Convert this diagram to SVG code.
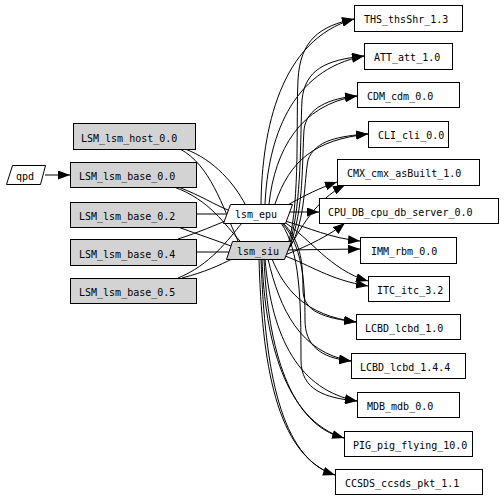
<svg xmlns="http://www.w3.org/2000/svg" width="504" height="498" viewBox="0 0 504 498">
<defs>
<style>
text{font-family:"DejaVu Sans Mono","Liberation Mono",monospace;font-size:10px;fill:#000}
.n{fill:#fff;stroke:#000;stroke-width:1}
.g{fill:#d3d3d3;stroke:#000;stroke-width:1}
.e{fill:none;stroke:#000;stroke-width:1}
.a{marker-end:url(#ah)}
</style>
<marker id="ah" markerWidth="13" markerHeight="9" refX="12" refY="4.5" orient="auto" markerUnits="userSpaceOnUse"><path d="M0,0 L12,4.5 L0,9 z" fill="#000"/></marker>
</defs>
<rect width="504" height="498" fill="#fff"/>
<g id="edges">
<path class="e a" d="M45,175 L70,175"/>
<path class="e" d="M185,149 C215,160 235,185 245,204"/>
<path class="e" d="M180,149 C210,165 222,205 238,241"/>
<path class="e" d="M178,187 C200,195 215,205 228,210"/>
<path class="e" d="M174,187 C210,200 225,225 240,241"/>
<path class="e" d="M196,214 L226,214"/>
<path class="e" d="M178,227 C200,235 215,240 231,246"/>
<path class="e" d="M178,239 C200,232 215,225 228,220"/>
<path class="e" d="M196,252 L229,252"/>
<path class="e" d="M178,278 C210,265 228,240 242,223"/>
<path class="e" d="M182,278 C205,272 220,265 232,259"/>
<path class="e a" d="M261,204 C262,130 280,40 354,19"/>
<path class="e a" d="M265,204 C268,140 290,70 364,56"/>
<path class="e a" d="M269,204 C275,150 300,105 357,96"/>
<path class="e a" d="M275,204 C290,160 315,140 368,134"/>
<path class="e a" d="M286,206 C305,195 320,188 337,182"/>
<path class="e a" d="M290,212 L319,212"/>
<path class="e a" d="M285,221 C310,228 330,238 360,241"/>
<path class="e a" d="M284,222 C310,238 330,270 368,281"/>
<path class="e a" d="M283,223 C300,240 303,260 303,290 C303,312 325,318 356,322"/>
<path class="e a" d="M282,223 C302,245 305,280 305,320 C305,345 320,358 351,361"/>
<path class="e a" d="M281,223 C300,250 301,300 301,360 C301,390 325,398 357,401"/>
<path class="e a" d="M289,241 C300,200 296,120 298,80 C300,40 320,26 354,19"/>
<path class="e a" d="M290,243 C302,200 300,140 302,100 C305,70 325,60 364,56"/>
<path class="e a" d="M290,245 C304,210 302,160 304,130 C306,108 330,98 357,96"/>
<path class="e a" d="M290,247 C306,220 304,180 308,160 C315,140 340,136 368,134"/>
<path class="e a" d="M288,250 C300,230 315,200 345,185"/>
<path class="e a" d="M285,255 C310,245 330,235 345,223"/>
<path class="e a" d="M284,250 L360,249"/>
<path class="e a" d="M285,256 C310,265 330,280 368,286"/>
<path class="e a" d="M272,259 C285,290 305,315 356,322"/>
<path class="e a" d="M268,259 C280,310 300,352 351,361"/>
<path class="e a" d="M265,259 C272,340 300,390 357,401"/>
<path class="e a" d="M262,259 C265,340 285,420 344,438"/>
<path class="e a" d="M259,259 C262,360 275,455 335,475"/>
<path class="e" d="M264,259 C268,350 290,425 344,438"/>
<path class="e" d="M261,259 C265,370 280,458 335,475"/>
</g>
<g id="qpd"><polygon class="n" points="12.5,165.5 45.5,165.5 40.5,184.5 6.5,184.5"/><text x="16" y="180">qpd</text></g>
<g id="LSM_lsm_host_0.0"><rect class="g" x="73.5" y="123.5" width="122" height="26"/><text x="81" y="142">LSM_lsm_host_0.0</text></g>
<g id="LSM_lsm_base_0.0"><rect class="g" x="70.5" y="162.5" width="126" height="25"/><text x="79" y="180">LSM_lsm_base_0.0</text></g>
<g id="LSM_lsm_base_0.2"><rect class="g" x="70.5" y="202.5" width="126" height="25"/><text x="79" y="220">LSM_lsm_base_0.2</text></g>
<g id="LSM_lsm_base_0.4"><rect class="g" x="70.5" y="239.5" width="126" height="26"/><text x="79" y="258">LSM_lsm_base_0.4</text></g>
<g id="LSM_lsm_base_0.5"><rect class="g" x="70.5" y="278.5" width="126" height="25"/><text x="79" y="296">LSM_lsm_base_0.5</text></g>
<g id="lsm_epu"><polygon class="n" points="230.5,204.5 292.5,204.5 285.5,223.5 223.5,223.5"/><text x="235" y="218">lsm_epu</text></g>
<g id="lsm_siu"><polygon class="g" points="232.5,241.5 291.5,241.5 284.5,259.5 226.5,259.5"/><text x="237" y="255">lsm_siu</text></g>
<g id="THS_thsShr_1.3"><rect class="n" x="354.5" y="5.5" width="108" height="26"/><text x="364" y="23">THS_thsShr_1.3</text></g>
<g id="ATT_att_1.0"><rect class="n" x="364.5" y="43.5" width="88" height="26"/><text x="374" y="61">ATT_att_1.0</text></g>
<g id="CDM_cdm_0.0"><rect class="n" x="357.5" y="82.5" width="102" height="25"/><text x="367" y="100">CDM_cdm_0.0</text></g>
<g id="CLI_cli_0.0"><rect class="n" x="368.5" y="121.5" width="80" height="26"/><text x="378" y="139">CLI_cli_0.0</text></g>
<g id="CMX_cmx_asBuilt_1.0"><rect class="n" x="337.5" y="159.5" width="142" height="26"/><text x="347" y="177">CMX_cmx_asBuilt_1.0</text></g>
<g id="CPU_DB_cpu_db_server_0.0"><rect class="n" x="319.5" y="198.5" width="179" height="25"/><text x="328" y="216">CPU_DB_cpu_db_server_0.0</text></g>
<g id="IMM_rbm_0.0"><rect class="n" x="360.5" y="237.5" width="96" height="26"/><text x="371" y="255">IMM_rbm_0.0</text></g>
<g id="ITC_itc_3.2"><rect class="n" x="368.5" y="276.5" width="81" height="25"/><text x="377" y="294">ITC_itc_3.2</text></g>
<g id="LCBD_lcbd_1.0"><rect class="n" x="356.5" y="314.5" width="104" height="25"/><text x="365" y="332">LCBD_lcbd_1.0</text></g>
<g id="LCBD_lcbd_1.4.4"><rect class="n" x="351.5" y="353.5" width="114" height="25"/><text x="360" y="371">LCBD_lcbd_1.4.4</text></g>
<g id="MDB_mdb_0.0"><rect class="n" x="357.5" y="392.5" width="102" height="25"/><text x="367" y="410">MDB_mdb_0.0</text></g>
<g id="PIG_pig_flying_10.0"><rect class="n" x="344.5" y="431.5" width="128" height="25"/><text x="353" y="449">PIG_pig_flying_10.0</text></g>
<g id="CCSDS_ccsds_pkt_1.1"><rect class="n" x="335.5" y="469.5" width="147" height="25"/><text x="345" y="487">CCSDS_ccsds_pkt_1.1</text></g>
</svg>
